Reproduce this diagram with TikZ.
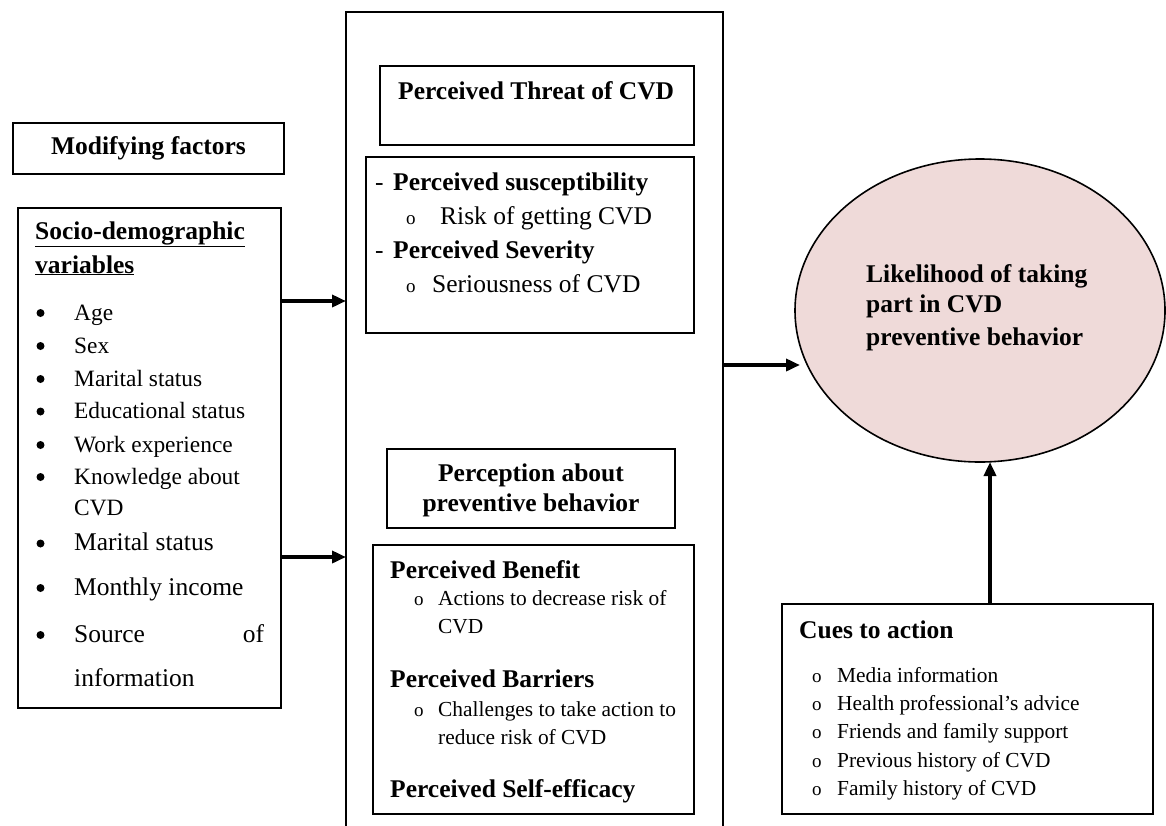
\documentclass[tikz,border=0pt]{standalone}
\usepackage{fontspec}
\setmainfont{Liberation Serif}
\usetikzlibrary{arrows.meta,shapes.geometric}
\definecolor{pinkfill}{RGB}{239,218,217}
\newcommand{\fHd}{\fontsize{25.5}{32}\selectfont\bfseries}
\newcommand{\fTx}{\fontsize{25.5}{32}\selectfont}
\newcommand{\fSm}{\fontsize{23.4}{30}\selectfont}
\newcommand{\fMd}{\fontsize{21.4}{28}\selectfont}
\newcommand{\fOb}{\fontsize{19}{22}\selectfont}
\begin{document}
\begin{tikzpicture}[x=1pt,y=-1pt,
  box/.style={draw, line width=1.8pt, inner sep=0pt, outer sep=0pt},
  hd/.style={font=\fHd, anchor=base west, inner sep=0pt},
  tx/.style={font=\fTx, anchor=base west, inner sep=0pt},
  sm/.style={font=\fSm, anchor=base west, inner sep=0pt},
  md/.style={font=\fMd, anchor=base west, inner sep=0pt},
  ob/.style={font=\fOb, anchor=base west, inner sep=0pt},
  dot/.style={circle, fill=black, inner sep=0pt, minimum size=8pt},
  arr/.style={line width=3.5pt, -{Triangle[length=14pt,width=12pt]}}]
\useasboundingbox (0,0) rectangle (1166,825);
\clip (0,0) rectangle (1166,825);

% ---------- left column ----------
\node[box, minimum width=271pt, minimum height=51pt, font=\fHd] (mod) at (148.5,148.5) {Modifying factors};
\node[box, minimum width=263pt, minimum height=500pt] (socio) at (149.5,458) {};
\node[hd] (sdh) at (35,239) {\underline{Socio-demographic}};
\node[hd] (sdv) at (35,273) {\underline{variables}};
\foreach \yy/\tt/\nm in {320/Age/s1, 353/Sex/s2, 386/Marital status/s3, 418.5/Educational status/s4, 452/Work experience/s5, 484/Knowledge about/s6}{
  \node[dot] (b\nm) at (40.5,\yy-7) {};
  \node[sm] (\nm) at (74,\yy) {\tt};
}
\node[sm] (s7) at (74,515.5) {CVD};
\node[dot] (bs8) at (40.5,543.5) {};
\node[tx] (s8) at (74,550.5) {Marital status};
\node[dot] (bs9) at (40.5,588) {};
\node[tx] (s9) at (74,595) {Monthly income};
\node[dot] (bs10) at (40.5,635) {};
\node[tx] (s10) at (74,642) {\makebox[190pt][s]{Source of}};
\node[tx] (s11) at (74,686) {information};

% ---------- middle column ----------
\node[box, minimum width=377pt, minimum height=900pt] (mid) at (534.5,462) {};
\node[box, minimum width=314pt, minimum height=79pt] (threat) at (537,105.5) {};
\node[hd] (threatt) at (398,99.3) {Perceived Threat of CVD};
\node[box, minimum width=328pt, minimum height=176pt] (sus) at (530,245) {};
\node[tx] (d1) at (375,190) {-};
\node[hd] (sus1) at (393,190) {Perceived susceptibility};
\node[ob] (o1) at (406,224) {o};
\node[tx] (sus2) at (440,224) {Risk of getting CVD};
\node[tx] (d2) at (375,258) {-};
\node[hd] (sus3) at (393,258) {Perceived Severity};
\node[ob] (o2) at (406,292.7) {o};
\node[tx] (sus4) at (432,292.7) {Seriousness of CVD};

\node[box, minimum width=288pt, minimum height=79pt] (perc) at (531,488.5) {};
\node[font=\fHd, anchor=base, inner sep=0pt] (perc1) at (531,481.7) {Perception about};
\node[font=\fHd, anchor=base, inner sep=0pt] (perc2) at (531,511.7) {preventive behavior};

\node[box, minimum width=321pt, minimum height=269pt] (ben) at (533.5,679.5) {};
\node[hd] (ben1) at (390,578) {Perceived Benefit};
\node[ob] (o3) at (414,605) {o};
\node[md] (ben2) at (438,605) {Actions to decrease risk of};
\node[md] (ben3) at (438,633) {CVD};
\node[hd] (ben4) at (390,687) {Perceived Barriers};
\node[ob] (o4) at (414,716) {o};
\node[md] (ben5) at (438,716) {Challenges to take action to};
\node[md] (ben6) at (438,744) {reduce risk of CVD};
\node[hd] (ben7) at (390,797) {Perceived Self-efficacy};

% ---------- right column ----------
\node[ellipse, draw, line width=1.6pt, fill=pinkfill, inner sep=0pt,
      minimum width=370pt, minimum height=303pt] (lik) at (980,310.5) {};
\node[hd] (lik1) at (866,282.7) {Likelihood of taking};
\node[hd] (lik2) at (866,312.7) {part in CVD};
\node[hd] (lik3) at (866,345) {preventive behavior};

\node[box, minimum width=371pt, minimum height=210pt] (cues) at (967.5,709) {};
\node[hd] (cues0) at (799,638) {Cues to action};
\foreach \yy/\tt/\nm in {682/Media information/c1, 710/Health professional’s advice/c2, 738/Friends and family support/c3, 767/Previous history of CVD/c4, 795/Family history of CVD/c5}{
  \node[ob] (o\nm) at (812,\yy) {o};
  \node[md] (\nm) at (837,\yy) {\tt};
}

% ---------- connectors ----------
\coordinate (a1) at (0,301);
\coordinate (a2) at (0,557);
\coordinate (a3) at (800,365);
\coordinate (a4) at (990,462);
\draw[arr] (socio.east |- a1) -- (mid.west |- a1);
\draw[arr] (socio.east |- a2) -- (mid.west |- a2);
\draw[arr] (mid.east |- a3) -- (a3);
\draw[arr] (a4 |- cues.north) -- (a4);
\end{tikzpicture}
\end{document}
